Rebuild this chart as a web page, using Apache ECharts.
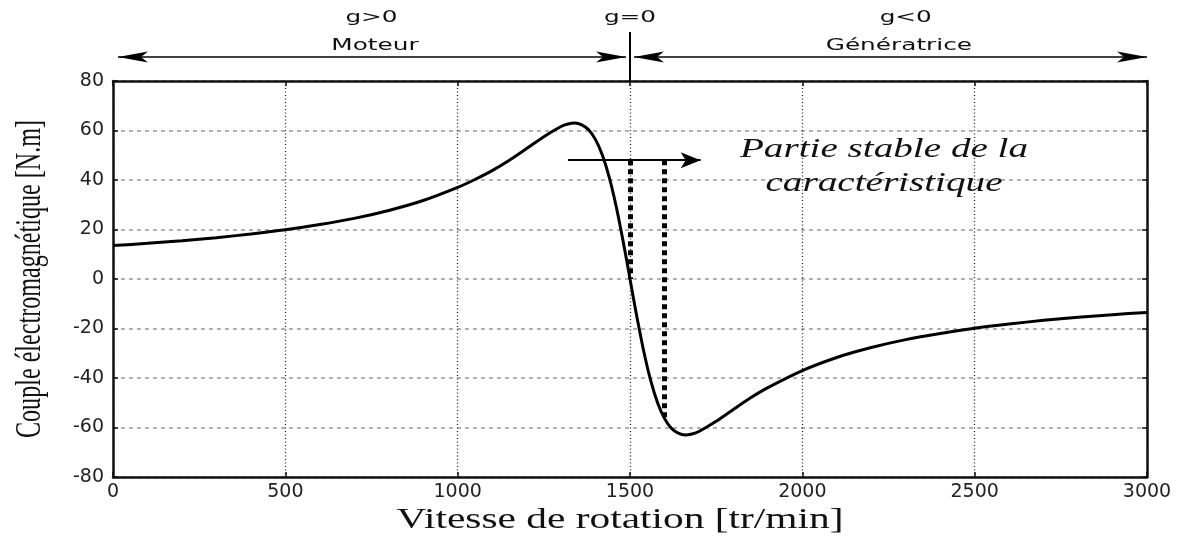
<!DOCTYPE html>
<html>
<head>
<meta charset="utf-8">
<script src="https://cdn.jsdelivr.net/npm/echarts@6/dist/echarts.min.js"></script>
<style>
html, body { margin: 0; padding: 0; background: #fff; }
#main { width: 1186px; height: 546px; }
</style>
</head>
<body>
<div id="main"></div>
<script>
// vitesse de rotation [tr/min] et couple [N.m]
var vitesse = [0, 100, 200, 300, 400, 500, 600, 700, 800, 900, 1000, 1050, 1100, 1150, 1200, 1250, 1300, 1320, 1340, 1360, 1380, 1400, 1420, 1440, 1460, 1480, 1490, 1500,
  1510, 1520, 1540, 1560, 1580, 1600, 1620, 1640, 1660, 1680, 1700, 1750, 1800, 1850, 1900, 2000, 2100, 2200, 2300, 2400, 2500, 2600, 2700, 2800, 2900, 3000];
var couple = [13.5, 14.4, 15.5, 16.7, 18.2, 19.9, 22, 24.5, 27.7, 31.7, 37, 40.2, 43.8, 48, 52.7, 57.5, 61.6, 62.6, 63, 62.3, 60.3, 56.3, 50, 41, 29.3, 15.3, 7.8, 0,
  -7.8, -15.3, -29.3, -41, -50, -56.3, -60.3, -62.3, -63, -62.6, -61.6, -57.5, -52.7, -48, -43.9, -37, -31.7, -27.7, -24.5, -22, -19.9, -18.2, -16.7, -15.5, -14.4, -13.5];

// graduations
var xTicks = [0, 500, 1000, 1500, 2000, 2500, 3000];
var yTicks = [-80, -60, -40, -20, 0, 20, 40, 60, 80];

// zones de fonctionnement
var zones = ['g>0', 'g=0', 'g<0'];
var modes = ['Moteur', 'Génératrice'];
var vSync = 1500;

// partie stable
var stableX = [1500, 1600];
var stableBas = [0, -56];
var stableHaut = 48;
var flecheX = [1320, 1705];
var stableTexte = ['Partie stable de la', 'caractéristique'];

var pts = [];
for (var i = 0; i < vitesse.length; i++) {
  pts.push([vitesse[i], couple[i]]);
}

var chart = echarts.init(document.getElementById('main'));

var axeLigne = { show: true, onZero: false, lineStyle: { color: '#111', width: 2.5 } };
var axeTick = { show: true, inside: true, length: 5, lineStyle: { color: '#111', width: 1.5 } };
var brut = function (v) { return String(v); };

var option = {
  animation: false,
  grid: { left: 113, top: 81, right: 39, bottom: 69 },
  xAxis: [{
    type: 'value',
    min: xTicks[0],
    max: xTicks[xTicks.length - 1],
    interval: xTicks[1] - xTicks[0],
    axisLine: axeLigne,
    axisTick: axeTick,
    axisLabel: { color: '#222', fontFamily: 'DejaVu Sans', fontSize: 19, margin: 6, formatter: brut },
    splitLine: { show: true, lineStyle: { color: '#222', type: [1, 2.5], width: 1.3 } }
  }, {
    type: 'value',
    position: 'top',
    min: xTicks[0],
    max: xTicks[xTicks.length - 1],
    interval: xTicks[1] - xTicks[0],
    axisLine: axeLigne,
    axisTick: axeTick,
    axisLabel: { show: false },
    splitLine: { show: false }
  }],
  yAxis: [{
    type: 'value',
    min: yTicks[0],
    max: yTicks[yTicks.length - 1],
    interval: yTicks[1] - yTicks[0],
    axisLine: axeLigne,
    axisTick: axeTick,
    axisLabel: { color: '#222', fontFamily: 'DejaVu Sans', fontSize: 19, margin: 9, formatter: brut },
    splitLine: { show: true, lineStyle: { color: '#999', type: [4, 4], width: 1.5 } }
  }, {
    type: 'value',
    position: 'right',
    min: yTicks[0],
    max: yTicks[yTicks.length - 1],
    interval: yTicks[1] - yTicks[0],
    axisLine: axeLigne,
    axisTick: axeTick,
    axisLabel: { show: false },
    splitLine: { show: false }
  }],
  series: [{
    name: 'Couple',
    type: 'line',
    data: pts,
    showSymbol: false,
    smooth: 0.25,
    lineStyle: { color: '#000', width: 3 },
    z: 5
  }, {
    // fleche horizontale
    type: 'line',
    data: [],
    markLine: {
      silent: true,
      symbol: ['none', 'arrow'],
      symbolSize: [12, 20],
      label: { show: false },
      lineStyle: { color: '#000', width: 2, type: 'solid' },
      data: [[{ coord: [flecheX[0], stableHaut] }, { coord: [flecheX[1], stableHaut] }]]
    }
  }, {
    // pointilles de la partie stable
    type: 'line',
    data: [],
    markLine: {
      silent: true,
      symbol: ['none', 'none'],
      label: { show: false },
      lineStyle: { color: '#000', width: 5, type: [5, 4] },
      data: stableX.map(function (v, k) {
        return [{ coord: [v, stableHaut] }, { coord: [v, stableBas[k]] }];
      })
    }
  }]
};

chart.setOption(option);

// annotations au-dessus du graphe
function texte(t, x, y, font, sx, rot) {
  return {
    type: 'text', x: x, y: y, rotation: rot || 0, scaleX: sx, scaleY: 1, silent: true,
    style: { text: t, font: font, fill: '#111', align: 'center', verticalAlign: 'middle',
      textAlign: 'center', textVerticalAlign: 'middle' }
  };
}
function pointe(tip, y, dir) {
  var L = 30, W = 5.5, N = 23;
  return {
    type: 'polygon', silent: true,
    shape: { points: [[tip, y], [tip - dir * L, y - W], [tip - dir * N, y], [tip - dir * L, y + W]] },
    style: { fill: '#000' }
  };
}

var px = function (v) { return chart.convertToPixel({ xAxisIndex: 0 }, v); };
var gauche = px(xTicks[0]), droite = px(xTicks[xTicks.length - 1]), xs = px(vSync);
var yFl = 57;
var fontSans = '15px "DejaVu Sans"';
var fontSerif = '"Liberation Serif", "DejaVu Serif", serif';

var elems = [
  { type: 'line', silent: true, shape: { x1: gauche + 5, y1: yFl, x2: xs - 4, y2: yFl }, style: { stroke: '#000', lineWidth: 1.6 } },
  { type: 'line', silent: true, shape: { x1: xs + 4, y1: yFl, x2: droite, y2: yFl }, style: { stroke: '#000', lineWidth: 1.6 } },
  { type: 'line', silent: true, shape: { x1: xs, y1: 32, x2: xs, y2: 82 }, style: { stroke: '#000', lineWidth: 2 } },
  pointe(gauche + 5, yFl, -1),
  pointe(xs - 4, yFl, 1),
  pointe(xs + 4, yFl, -1),
  pointe(droite, yFl, 1),
  texte(zones[0], px(750), 18, fontSans, 1.65),
  texte(zones[1], xs, 18, fontSans, 1.65),
  texte(zones[2], px(2300), 18, fontSans, 1.65),
  texte(modes[0], px(760), 46, fontSans, 1.65),
  texte(modes[1], px(2280), 46, fontSans, 1.65),
  texte(stableTexte[0], 884, 150, 'italic 27px ' + fontSerif, 1.45),
  texte(stableTexte[1], 884, 184, 'italic 27px ' + fontSerif, 1.45),
  texte('Vitesse de rotation [tr/min]', 620, 520, '30px ' + fontSerif, 1.38),
  texte('Couple électromagnétique [N.m]', 31, 279, '36px ' + fontSerif, 0.67, Math.PI / 2)
];

chart.setOption({ graphic: { elements: elems } });
</script>
</body>
</html>
